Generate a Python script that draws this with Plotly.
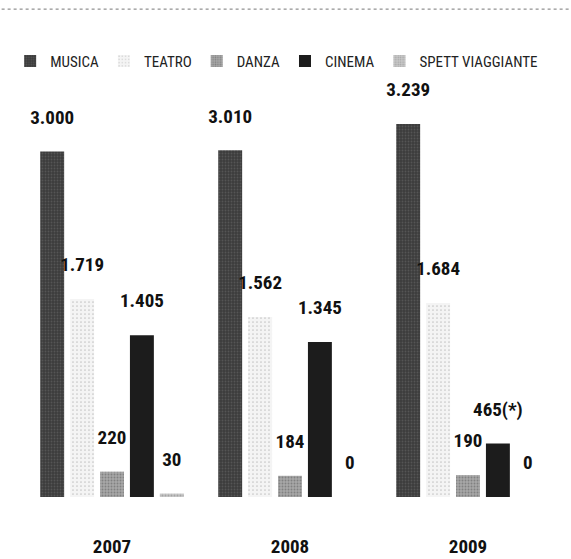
import plotly.graph_objects as go

years = ["2007", "2008", "2009"]
series_names = ["MUSICA", "TEATRO", "DANZA", "CINEMA", "SPETT VIAGGIANTE"]
musica = [3000, 3010, 3239]
teatro = [1719, 1562, 1684]
danza = [220, 184, 190]
cinema = [1405, 1345, 465]
spett = [30, 0, 0]
labels = {
    "MUSICA": ["3.000", "3.010", "3.239"],
    "TEATRO": ["1.719", "1.562", "1.684"],
    "DANZA": ["220", "184", "190"],
    "CINEMA": ["1.405", "1.345", "465(*)"],
    "SPETT VIAGGIANTE": ["30", "0", "0"],
}
values = {"MUSICA": musica, "TEATRO": teatro, "DANZA": danza,
          "CINEMA": cinema, "SPETT VIAGGIANTE": spett}

FONT = "Roboto Condensed, Liberation Sans Narrow, Arial Narrow, sans-serif"

styles = {
    "MUSICA": dict(color="#3c3c3c", pattern=dict(shape=".", fgcolor="#6e6e6e", size=3, solidity=0.3)),
    "TEATRO": dict(color="#f4f4f4", pattern=dict(shape=".", fgcolor="#9a9a9a", size=4, solidity=0.15)),
    "DANZA": dict(color="#a8a8a8", pattern=dict(shape=".", fgcolor="#5a5a5a", size=3, solidity=0.35)),
    "CINEMA": dict(color="#1c1c1c"),
    "SPETT VIAGGIANTE": dict(color="#c8c8c8", pattern=dict(shape=".", fgcolor="#808080", size=3, solidity=0.3)),
}

fig = go.Figure()
for name in series_names:
    fig.add_trace(go.Bar(
        name=name,
        x=years,
        y=values[name],
        text=[t + "<br><span style='font-size:2px'> </span>" for t in labels[name]],
        texttemplate="%{text}",
        textposition="outside",
        textangle=0,
        constraintext="none",
        cliponaxis=False,
        textfont=dict(family=FONT, size=19, color="#111111", weight="bold"),
        marker=dict(line=dict(width=0), **styles[name]),
    ))

fig.update_layout(
    width=571, height=559,
    margin=dict(l=23, r=14, t=80, b=62, autoexpand=False),
    paper_bgcolor="white",
    plot_bgcolor="white",
    barmode="group",
    bargap=0.16,
    bargroupgap=0.2,
    showlegend=True,
    legend=dict(orientation="h", x=0.475, xanchor="center", y=1.045, yanchor="middle",
                font=dict(family=FONT, size=15, color="#222222"),
                itemwidth=30, tracegroupgap=0),
    xaxis=dict(showline=False, showgrid=False, ticks="", ticklabelstandoff=36,
               automargin=False,
               tickfont=dict(family=FONT, size=19, color="#111111", weight="bold")),
    yaxis=dict(visible=False, range=[0, 3620]),
)

fig.add_shape(type="line", xref="paper", yref="paper", x0=-0.04, x1=1.03, y0=1.17, y1=1.17,
              line=dict(color="#777777", width=1, dash="dot"))

fig.write_html("out.html")
